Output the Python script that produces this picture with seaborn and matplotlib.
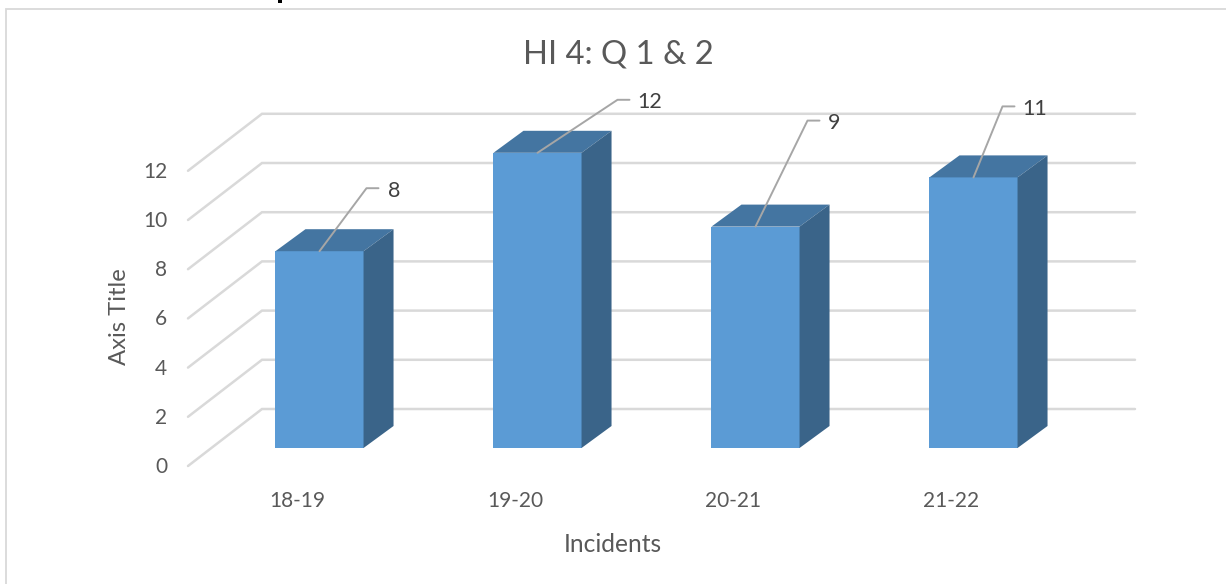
import matplotlib
matplotlib.use("Agg")
import matplotlib.pyplot as plt
from matplotlib.lines import Line2D
from matplotlib.patches import Polygon, Rectangle
from matplotlib.transforms import ScaledTranslation
import pandas as pd
import seaborn as sns

periods = ["18-19", "19-20", "20-21", "21-22"]
incidents = [8, 12, 9, 11]
y_ticks = [0, 2, 4, 6, 8, 10, 12]

FW, FH = 1226, 584
PX_X = 218.0   # pixels per category
PX_Y = 24.6    # pixels per unit

sns.set_theme(style="white")
plt.rcParams["font.family"] = ["Lato", "DejaVu Sans"]

TEXT = "#595959"
GRID = "#D9D9D9"

fig = plt.figure(figsize=(FW / 100, FH / 100), dpi=100)
fig.patch.set_facecolor("white")

# axes rectangle, in pixels of the picture
left, right, top, bottom = 188, 1135, 100, 466
ax = fig.add_axes([left / FW, 1 - bottom / FH, (right - left) / FW, (bottom - top) / FH])

df = pd.DataFrame({"period": periods, "incidents": incidents})
sns.barplot(df, x="period", y="incidents", color="#5B9BD5", saturation=1, width=0.404,
            linewidth=0, ax=ax, zorder=3)

ax.set_xlim((left - 319.5) / PX_X, (right - 319.5) / PX_X)
ax.set_ylim((448 - bottom) / PX_Y, (448 - top) / PX_Y)
ax.set_facecolor("none")
sns.despine(ax=ax, left=True, bottom=True, top=True, right=True)

ax.set_yticks(y_ticks)
ax.tick_params(axis="y", length=0, pad=15, labelsize=15, labelcolor=TEXT)
ax.tick_params(axis="x", length=0, pad=18, labelsize=15, labelcolor=TEXT)

# the wall and floor sit behind the bars
wall_dx = 74 / PX_X
wall_dy = 57 / PX_Y
front_dy = -18 / PX_Y
x0, x1 = ax.get_xlim()
for v in y_ticks:
    ax.plot([x0, x0 + wall_dx, x1], [v + front_dy, v + front_dy + wall_dy, v + front_dy + wall_dy],
            color=GRID, lw=1.8, zorder=1, clip_on=False, solid_joinstyle="miter")

# depth faces of each column
dx = 30 / PX_X
dy = 22 / PX_Y
half = 0.202
for i, v in enumerate(incidents):
    l, r = i - half, i + half
    ax.add_patch(Polygon([(l, v), (r, v), (r + dx, v + dy), (l + dx, v + dy)],
                         closed=True, fc="#4475A1", ec="none", zorder=3))
    ax.add_patch(Polygon([(r, 0), (r + dx, dy), (r + dx, v + dy), (r, v)],
                         closed=True, fc="#3A6489", ec="none", zorder=3))

# leader lines and value labels, offsets in pixels from the column top
offsets = [(47, 63, 394), (80, 53, 650), (52, 106, 834), (29, 71, 1035)]
for i, (v, (ox, oy, lx)) in enumerate(zip(incidents, offsets)):
    ex, ey = i + ox / PX_X, v + oy / PX_Y
    ax.plot([i, ex, ex + 12 / PX_X], [v, ey, ey], color="#A6A6A6", lw=1.4, zorder=4, clip_on=False)
    ax.text((lx - 319.5) / PX_X, ey - 2.5 / PX_Y, str(v), ha="center", va="center",
            fontsize=15.5, color="#404040", zorder=5)

ax.set_xlabel("Incidents", fontsize=17.7, color=TEXT)
ax.xaxis.set_label_coords((613 - left) / (right - left), (bottom - 545) / (bottom - top), transform=ax.transAxes)
ax.xaxis.label.set_verticalalignment("center")
ax.set_ylabel("Axis Title", fontsize=17.2, color=TEXT)
ax.yaxis.set_label_coords((119 - left) / (right - left), (bottom - 317) / (bottom - top), transform=ax.transAxes)
ax.yaxis.label.set_verticalalignment("center")

fig.text(618 / FW, 1 - 55 / FH, "HI 4: Q 1 & 2", ha="center", va="center", fontsize=23.6, color=TEXT)

# chart frame: only the top and left edges show in the crop
fig.add_artist(Line2D([6 / FW, 6 / FW, 1], [0, 1 - 8.5 / FH, 1 - 8.5 / FH], transform=fig.transFigure,
                      color=GRID, lw=1.3, solid_joinstyle="miter"))
# descender of the cut-off text line above the chart
fig.add_artist(Rectangle((278 / FW, 1 - 2.5 / FH), 4 / FW, 2.5 / FH, transform=fig.transFigure,
                         fc="black", ec="none"))

# labels follow the front edge of the floor, not the bars
fig.canvas.draw()
shift_y = ScaledTranslation(0, -17 / 100, fig.dpi_scale_trans)
for lab in ax.get_yticklabels():
    lab.set_transform(lab.get_transform() + shift_y)
shift_x = ScaledTranslation(-22 / 100, 0, fig.dpi_scale_trans)
for lab in ax.get_xticklabels():
    lab.set_transform(lab.get_transform() + shift_x)

fig.savefig("out.png", dpi=100)
